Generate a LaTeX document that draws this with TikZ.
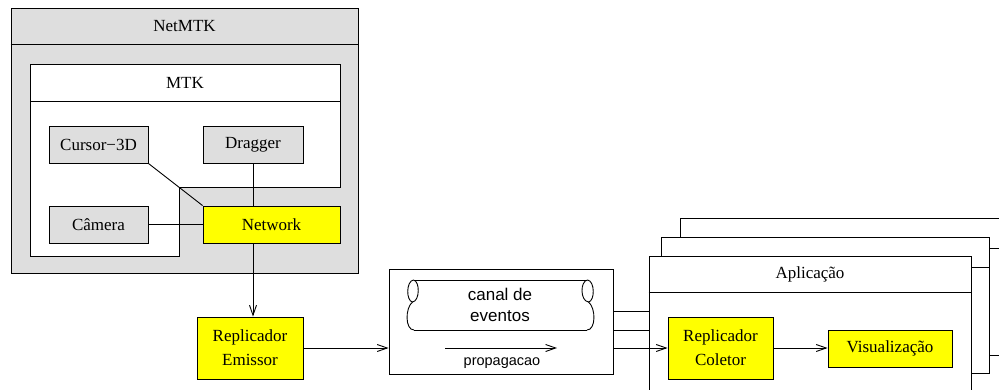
\documentclass[tikz,border=0pt]{standalone}
\usepackage{fontspec}
\setmainfont{Liberation Serif}
\newfontfamily\hv{Liberation Sans}
\usetikzlibrary{arrows.meta}
\definecolor{boxgray}{HTML}{DEDEDE}
\definecolor{boxyellow}{HTML}{FFFF00}
\tikzset{
  base/.style={draw=black, line width=0.9pt, inner sep=0pt, rectangle},
  graybox/.style={base, fill=boxgray, font=\fontsize{17}{20}\selectfont},
  yelbox/.style={base, fill=boxyellow, font=\fontsize{17}{24}\selectfont, align=center},
  whitebox/.style={base, fill=white},
  ttl/.style={inner sep=0pt, font=\fontsize{17}{20}\selectfont},
  conn/.style={draw=black, line width=0.9pt},
  arr/.style={conn, -{Straight Barb[length=10pt,width=7pt,line width=0.9pt]}},
}
\begin{document}
\begin{tikzpicture}[x=1pt,y=-1pt]
\useasboundingbox (0,0) rectangle (999,389);
\clip (0,0) rectangle (999,389);

% NetMTK
\node[graybox, minimum width=347pt, minimum height=265pt] (netmtk) at (184.5,140.5) {};
\draw[conn] ([yshift=-37pt]netmtk.north west) -- ([yshift=-37pt]netmtk.north east);
\node[ttl] (netmtktitle) at (184.5,26.5) {NetMTK};

% MTK
\draw[conn, fill=white] (30,64) -- (340,64) -- (340,187) -- (179,187) -- (179,256) -- (30,256) -- cycle;
\draw[conn] (30,101) -- (340,101);
\node[ttl] (mtktitle) at (185,82.5) {MTK};

\node[graybox, minimum width=99pt, minimum height=37pt] (cursor) at (98.5,144.5) {Cursor−3D};
\node[graybox, minimum width=100pt, minimum height=37pt] (dragger) at (253,144.5) {Dragger};
\node[graybox, minimum width=99pt, minimum height=37pt] (camera) at (98.5,224.5) {Câmera};
\node[yelbox, minimum width=137pt, minimum height=37pt] (network) at (271.5,224.5) {Network};

\draw[conn] (cursor.south east) -- (network.north west);
\draw[conn] (dragger.south) -- (dragger.south |- network.north);
\draw[conn] (camera.east) -- (network.west);

% Replicador Emissor
\node[yelbox, minimum width=106pt, minimum height=62pt] (emissor) at (250,348) {Replicador\\Emissor};
\draw[arr] (dragger.south |- network.south) -- (dragger.south |- emissor.north);

% channel
\node[whitebox, minimum width=224pt, minimum height=105pt] (channel) at (501,321.5) {};
\draw[conn] (414,280) -- (587,280);
\draw[conn] (414,330) -- (587,330);
% left end
\draw[conn] (413.5,280) .. controls (406,281) and (406,301) .. (412.5,302)
  .. controls (420,301) and (420,281) .. (413.5,280);
\draw[conn] (412.5,302) .. controls (405,308) and (405,330) .. (414,330);
% right end
\draw[conn] (587.5,280) .. controls (580,281) and (580,301) .. (588.5,302)
  .. controls (595,301) and (595,281) .. (587.5,280);
\draw[conn] (588.5,302) .. controls (596,308) and (596,330) .. (587,330);
\node[inner sep=0pt, font=\hv\fontsize{17}{21}\selectfont, align=center] (canal) at (500,305) {canal de\\eventos};
\coordinate (pa) at (445,348);
\coordinate (pb) at (557,348);
\draw[arr] (pa) -- (pb);
\node[inner sep=0pt, font=\hv\fontsize{14.5}{17}\selectfont] (prop) at (502,363) {propagacao};

\draw[arr] (emissor.east) -- (emissor.east -| channel.west);

% stacked applications
\node[whitebox, minimum width=330pt, minimum height=137pt] (back3) at (845,286.5) {};
\draw[conn] ([yshift=-31pt]back3.north west) -- ([yshift=-31pt]back3.north east);
\node[whitebox, minimum width=328pt, minimum height=136pt] (back2) at (825,305) {};
\draw[conn] ([yshift=-31pt]back2.north west) -- ([yshift=-31pt]back2.north east);

\draw[conn] (channel.east |- 0,311) -- (back3.west |- 0,311);
\draw[conn] (channel.east |- 0,330) -- (back2.west |- 0,330);

\node[whitebox, minimum width=322pt, minimum height=136pt] (front) at (810,324) {};
\draw[conn] ([yshift=-37pt]front.north west) -- ([yshift=-37pt]front.north east);
\node[ttl] (apptitle) at (810,274.5) {Aplicação};

\node[yelbox, minimum width=105pt, minimum height=62pt] (coletor) at (720.5,348) {Replicador\\Coletor};
\node[yelbox, minimum width=124pt, minimum height=37pt] (visual) at (890,348.5) {Visualização};

\draw[arr] (channel.east |- coletor.west) -- (coletor.west);
\draw[arr] (coletor.east) -- (coletor.east -| visual.west);
\end{tikzpicture}
\end{document}
